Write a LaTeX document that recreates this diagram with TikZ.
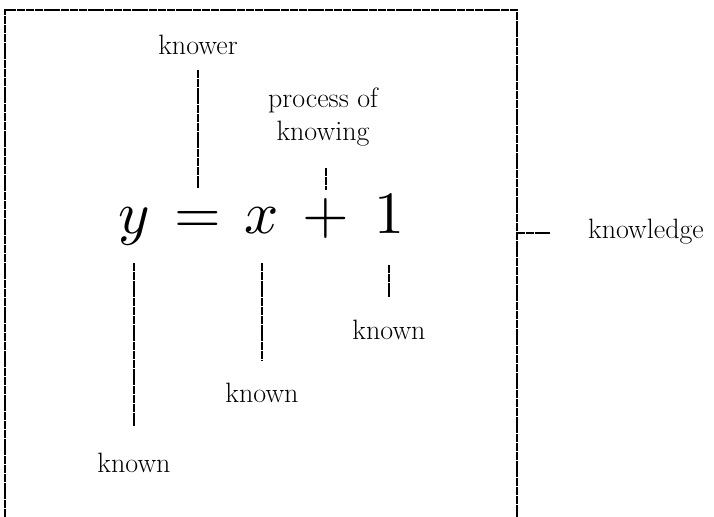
\documentclass[tikz,border=0pt]{standalone}
\usetikzlibrary{calc}

\begin{document}
\begin{tikzpicture}[x=0.75pt,y=-0.75pt,
	lbl/.style={font=\fontsize{21}{25}\selectfont, align=center, inner sep=0pt},
	eqsym/.style={font=\normalsize, scale=4.5, anchor=base, inner sep=0pt},
	dline/.style={line width=0.8pt, dash pattern=on 6pt off 0.6pt}]
		\useasboundingbox (0,0) rectangle (714,517);

		% Box round the equation (open at the bottom)
		\draw[dline] (5,517) -- (5,10) -- (517,10) -- (517,517);
		\coordinate (boxedge) at (517,233);

		% Equation
		\node[eqsym] (ysym) at (134,233) {$y$};
		\node[eqsym] (eqsign) at (198,233) {$=$};
		\node[eqsym] (xsym) at (262,233) {$x$};
		\node[eqsym] (plus) at (326,233) {$+$};
		\node[eqsym] (one) at (389,233) {$1$};

		% Labels
		\node[lbl] (knower) at (198,45) {knower};
		\node[lbl] (process) at (323,117) {process of\\knowing};
		\node[lbl] (knownY) at (134,463) {known};
		\node[lbl] (knownX) at (262,393) {known};
		\node[lbl] (knownOne) at (389,330) {known};
		\node[lbl] (knowledge) at (646,232) {knowledge};

		% Lines from the labels
		\draw[dline] (knower |- 0,70) -- (eqsign |- 0,188);
		\draw[dline] (plus |- 0,168) -- (plus |- 0,190);
		\draw[dline] (ysym |- 0,263) -- (knownY |- 0,426);
		\draw[dline] (xsym |- 0,263) -- (knownX |- 0,360);
		\draw[dline] (one |- 0,265) -- (knownOne |- 0,297);
		\draw[dline] (boxedge) -- ($(boxedge)+(33,0)$);

	\end{tikzpicture}
\end{document}
